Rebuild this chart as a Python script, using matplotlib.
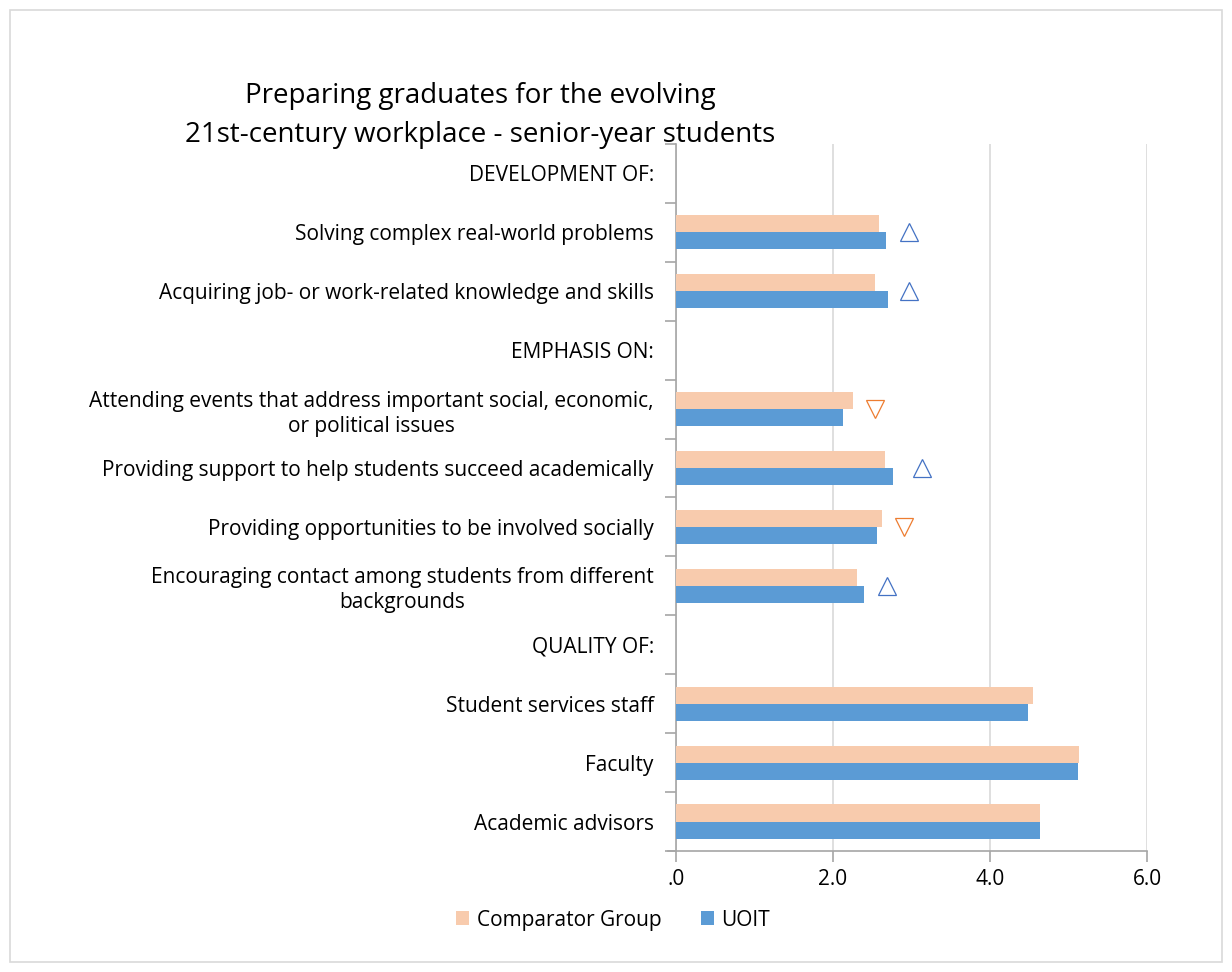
import numpy as np
import matplotlib
matplotlib.use("Agg")
import matplotlib.pyplot as plt
from matplotlib.patches import Rectangle
from matplotlib.ticker import FixedLocator

# --- data ---
categories = [
    "DEVELOPMENT OF:",
    "Solving complex real-world problems",
    "Acquiring job- or work-related knowledge and skills",
    "EMPHASIS ON:",
    "Attending events that address important social, economic,\nor political issues",
    "Providing support to help students succeed academically",
    "Providing opportunities to be involved socially",
    "Encouraging contact among students from different\nbackgrounds",
    "QUALITY OF:",
    "Student services staff",
    "Faculty",
    "Academic advisors",
]
comparator = [np.nan, 2.59, 2.53, np.nan, 2.25, 2.66, 2.63, 2.31, np.nan, 4.55, 5.13, 4.64]
uoit = [np.nan, 2.68, 2.70, np.nan, 2.13, 2.76, 2.56, 2.40, np.nan, 4.48, 5.12, 4.64]
# significance markers: 'up' / 'down' and where they sit on the x scale
sig_dir = [None, "up", "up", None, "down", "up", "down", "up", None, None, None, None]
sig_x = [np.nan, 2.97, 2.97, np.nan, 2.54, 3.13, 2.90, 2.69, np.nan, np.nan, np.nan, np.nan]
x_ticks = [0, 2, 4, 6]
x_tick_labels = [".0", "2.0", "4.0", "6.0"]

comp_color = "#F8CBAD"
uoit_color = "#5B9BD5"
up_color = "#4472C4"
down_color = "#ED7D31"

plt.rcParams['font.family'] = ['Open Sans', 'DejaVu Sans']

fig = plt.figure(figsize=(12.32, 9.72), dpi=100)
ax = fig.add_axes([676 / 1232, 1 - 851 / 972, (1147 - 676) / 1232, (851 - 144) / 972])

n = len(categories)
y = np.arange(n)
bh = 0.29
ax.barh(y - bh / 2, comparator, height=bh, color=comp_color, label="Comparator Group", zorder=3)
ax.barh(y + bh / 2, uoit, height=bh, color=uoit_color, label="UOIT", zorder=3)

for i, d in enumerate(sig_dir):
    if d == "up":
        ax.plot(sig_x[i], y[i], marker="^", ms=13, mfc="white", mec=up_color, mew=0.9, ls="none", zorder=4)
    elif d == "down":
        ax.plot(sig_x[i], y[i], marker="v", ms=13, mfc="white", mec=down_color, mew=0.9, ls="none", zorder=4)

ax.set_xlim(0, 6)
ax.set_ylim(n - 0.5, -0.5)
ax.set_xticks(x_ticks)
ax.set_xticklabels(x_tick_labels, fontsize=15)
ax.set_yticks(y)
ax.set_yticklabels(categories, fontsize=15, linespacing=1.25)
for lab in ax.get_yticklabels():
    lab.set_horizontalalignment("right")
    lab.set_multialignment("center")

# category boundary ticks on the left axis
ax.yaxis.set_minor_locator(FixedLocator(np.arange(-0.5, n, 1)))
ax.tick_params(axis="y", which="major", length=0, pad=16)
ax.tick_params(axis="y", which="minor", length=8, color="#A6A6A6", width=1.2)
ax.tick_params(axis="x", which="major", length=8, color="#A6A6A6", width=1.2, pad=5, direction="out")

ax.grid(axis="x", color="#D9D9D9", lw=1.2, zorder=0)
for s in ["top", "right"]:
    ax.spines[s].set_visible(False)
ax.spines["left"].set_color("#A6A6A6")
ax.spines["left"].set_linewidth(1.2)
ax.spines["bottom"].set_color("#A6A6A6")
ax.spines["bottom"].set_linewidth(1.2)
ax.spines["bottom"].set_bounds(-0.1, 6)

fig.text(480 / 1232, 1 - 103 / 972, "Preparing graduates for the evolving",
         ha="center", va="baseline", fontsize=20)
fig.text(480 / 1232, 1 - 142 / 972, "21st-century workplace - senior-year students",
         ha="center", va="baseline", fontsize=20)

handles, labels = ax.get_legend_handles_labels()
fig.legend(handles, labels, loc="center", bbox_to_anchor=(613 / 1232, 1 - 920 / 972), ncol=2,
           frameon=False, fontsize=15, handlelength=0.65, handleheight=0.65,
           handletextpad=0.35, columnspacing=1.9)

fig.patches.append(Rectangle((10 / 1232, 10 / 972), 1212 / 1232, 952 / 972,
                             transform=fig.transFigure, fill=False, ec="#D9D9D9", lw=1.2))

fig.savefig("out.png", dpi=100)
